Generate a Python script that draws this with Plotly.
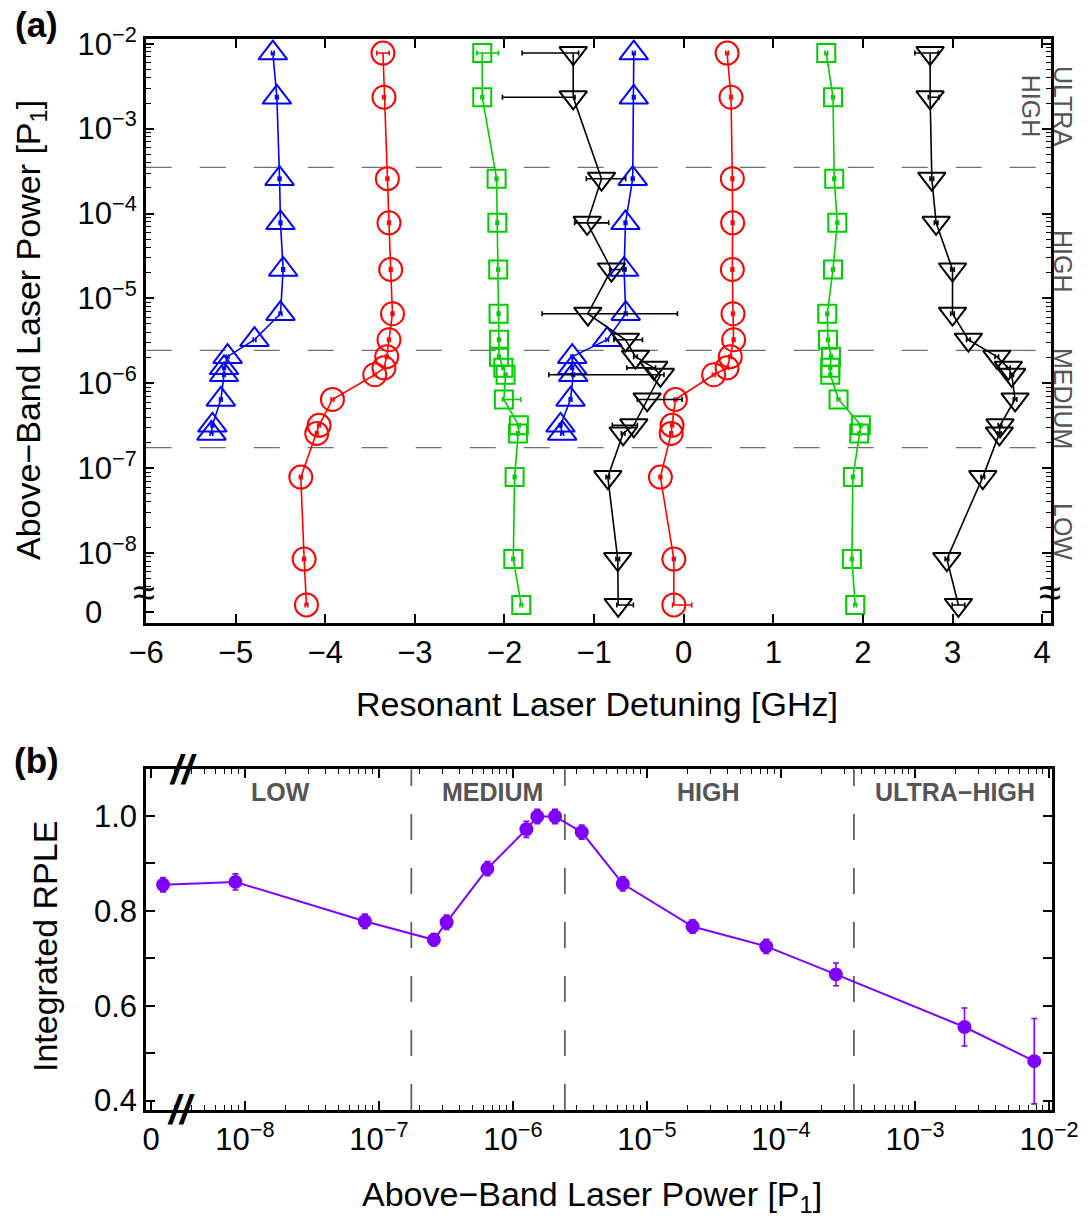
import plotly.graph_objects as go

# ---------------- data ----------------
# above-band laser power levels (P1 units); first entry is the zero-power point drawn at the axis break
power = [2.45e-9, 8.5e-9, 7.85e-8, 2.57e-7, 3.2e-7, 6.45e-7, 1.26e-6, 1.52e-6,
         2.06e-6, 3.26e-6, 6.6e-6, 2.19e-5, 7.76e-5, 2.57e-4, 2.34e-3, 7.76e-3]
zero_tick = 2e-9
region_bounds = [1.745e-7, 2.44e-6, 3.5e-4]

# panel (a): resonant laser detuning [GHz]
blue_left = [-5.27, -5.26, -5.165, -5.13, -5.13, -5.09, -4.79, -4.50, -4.47, -4.50, -4.51, -4.54, -4.585]
blue_right = [-1.356, -1.375, -1.263, -1.233, -1.244, -1.244, -0.854, -0.647, -0.665, -0.65, -0.569, -0.557, -0.557]
red_left = [-4.21, -4.236, -4.273, -4.095, -4.069, -3.92, -3.448, -3.345, -3.314, -3.289, -3.25, -3.27, -3.289, -3.307, -3.345, -3.356]
red_right = [-0.11, -0.11, -0.26, -0.14, -0.13, -0.093, 0.334, 0.484, 0.52, 0.557, 0.55, 0.543, 0.546, 0.543, 0.528, 0.484]
green_left = [-1.813, -1.902, -1.887, -1.85, -1.84, -2.007, -1.988, -2.013, -2.062, -2.062, -2.066, -2.07, -2.08, -2.088, -2.248, -2.248]
green_right = [1.914, 1.877, 1.888, 1.959, 1.977, 1.728, 1.636, 1.636, 1.643, 1.61, 1.602, 1.666, 1.714, 1.68, 1.666, 1.591]
black_left = [-0.731, -0.736, -0.847, -0.676, -0.557, -0.408, -0.26, -0.334, -0.538, -0.65, -1.07, -0.806, -1.077, -0.917, -1.233, -1.233]
black_right = [3.066, 2.937, 3.338, 3.523, 3.53, 3.698, 3.661, 3.623, 3.494, 3.177, 3.0, 3.0, 2.817, 2.769, 2.75, 2.75]

# horizontal error bars (plus / minus) [GHz]
blue_left_ep = [0.015] * 13
blue_left_em = [0.015] * 13
blue_right_ep = [0.015] * 13
blue_right_em = [0.015] * 13
red_left_ep = [0.015] * 15 + [0.07]
red_left_em = [0.015] * 15 + [0.07]
red_right_ep = [0.2] + [0.015] * 15
red_right_em = [0.015] * 16
green_left_ep = [0.015, 0.015, 0.015, 0.015, 0.015, 0.19, 0.015, 0.015, 0.015, 0.015, 0.015, 0.015, 0.015, 0.015, 0.015, 0.18]
green_left_em = [0.015] * 15 + [0.06]
green_right_ep = [0.015] * 16
green_right_em = [0.015] * 16
black_left_ep = [0.17, 0.02, 0.02, 0.02, 0.04, 0.39, 0.04, 0.02, 0.02, 0.19, 1.0, 0.16, 0.24, 0.27, 0.02, 0.06]
black_left_em = [0.015, 0.02, 0.02, 0.02, 0.24, 0.11, 1.245, 0.3, 0.02, 0.13, 0.51, 0.02, 0.14, 0.17, 0.79, 0.57]
black_right_ep = [0.07, 0.02, 0.02, 0.02, 0.02, 0.02, 0.02, 0.02, 0.02, 0.02, 0.02, 0.02, 0.02, 0.02, 0.1, 0.09]
black_right_em = [0.07, 0.02, 0.02, 0.02, 0.02, 0.02, 0.02, 0.02, 0.02, 0.02, 0.02, 0.02, 0.02, 0.02, 0.02, 0.17]

# panel (b): integrated RPLE
rple = [0.855, 0.861, 0.778, 0.739, 0.776, 0.889, 0.972, 0.999, 0.999, 0.966, 0.857, 0.767, 0.725, 0.666, 0.555, 0.483]
rple_err = [0.015, 0.017, 0.015, 0.013, 0.015, 0.015, 0.017, 0.015, 0.015, 0.015, 0.015, 0.014, 0.015, 0.024, 0.04, 0.09]

top_ticks = [zero_tick, 1e-8, 1e-7, 1e-6, 1e-5, 1e-4, 1e-3, 1e-2]
power_ticktext = ["10<sup>\u2212%d</sup>" % k for k in [8, 7, 6, 5, 4, 3, 2]]
x_ticks = [-6, -5, -4, -3, -2, -1, 0, 1, 2, 3, 4]
rple_ticks = [0.4, 0.5, 0.6, 0.7, 0.8, 0.9, 1.0]
rple_ticktext = ["0.4", "", "0.6", "", "0.8", "", "1.0"]
top_regions = ["ULTRA<br>HIGH", "HIGH", "MEDIUM", "LOW"]
bottom_regions = ["LOW", "MEDIUM", "HIGH", "ULTRA\u2212HIGH"]

# ---------------- style ----------------
FONT = "Liberation Sans, Arial, Helvetica, sans-serif"
BLUE, RED, GREEN, BLACK, PURPLE = "#0000ff", "#ff0000", "#00cc00", "#000000", "#7f00ff"
GRAY = "#555555"
W, H = 1091, 1228

minor = []
for e in range(-9, -1):
    for m in range(2, 10):
        v = m * 10.0 ** e
        if v > zero_tick * 1.01:
            minor.append(v)

fig = go.Figure()

def add_series(xv, yv, ep, em, color, symbol, size):
    fig.add_trace(go.Scatter(
        x=xv, y=yv, mode="lines+markers", xaxis="x", yaxis="y",
        line=dict(color=color, width=1.6),
        marker=dict(symbol=symbol, size=size, color=color, line=dict(color=color, width=2)),
        error_x=dict(type="data", symmetric=False, array=ep, arrayminus=em,
                     color=color, thickness=1.6, width=2.5),
        showlegend=False, hoverinfo="skip"))

add_series(blue_left, power[3:], blue_left_ep, blue_left_em, BLUE, "triangle-up-open", 25)
add_series(blue_right, power[3:], blue_right_ep, blue_right_em, BLUE, "triangle-up-open", 25)
add_series(red_left, power, red_left_ep, red_left_em, RED, "circle-open", 23)
add_series(red_right, power, red_right_ep, red_right_em, RED, "circle-open", 23)
add_series(green_left, power, green_left_ep, green_left_em, GREEN, "square-open", 18)
add_series(green_right, power, green_right_ep, green_right_em, GREEN, "square-open", 18)
add_series(black_left, power, black_left_ep, black_left_em, BLACK, "triangle-down-open", 24)
add_series(black_right, power, black_right_ep, black_right_em, BLACK, "triangle-down-open", 24)

fig.add_trace(go.Scatter(
    x=power, y=rple, mode="lines+markers", xaxis="x2", yaxis="y2",
    line=dict(color=PURPLE, width=2),
    marker=dict(symbol="circle", size=14, color=PURPLE),
    error_y=dict(type="data", array=rple_err, color=PURPLE, thickness=1.6, width=3),
    showlegend=False, hoverinfo="skip"))

# empty traces so the minor-tick overlay axes are drawn
fig.add_trace(go.Scatter(x=[], y=[], xaxis="x", yaxis="y3", showlegend=False))
fig.add_trace(go.Scatter(x=[], y=[], xaxis="x4", yaxis="y2", showlegend=False))

# plot-area geometry (pixels)
a_l, a_r, a_t, a_b = 145.7, 1051, 39.3, 622.7
b_l, b_r, b_t, b_b = 146, 1051.7, 769.3, 1110

def px(x):
    return x / W

def py(y):
    return 1 - y / H

top_yrange = [-8.82, -1.948]
bot_xrange = [-8.738, -1.98]

axis_common = dict(showgrid=False, zeroline=False, ticks="inside", ticklen=9, tickwidth=1.5,
                   tickcolor="black", showline=True, linecolor="black", linewidth=2.5,
                   mirror="ticks", automargin=False,
                   tickfont=dict(family=FONT, size=31, color="black"))
minor_common = dict(showgrid=False, zeroline=False, tickmode="array", tickvals=minor,
                    ticks="inside", ticklen=5, tickwidth=1.2, tickcolor="black",
                    showticklabels=False, showline=False, mirror="ticks", automargin=False)

fig.update_layout(
    template="none",
    width=W, height=H, autosize=False,
    margin=dict(l=0, r=0, t=0, b=0, pad=0),
    paper_bgcolor="white", plot_bgcolor="white",
    showlegend=False,
    font=dict(family=FONT, color="black"),
    xaxis=dict(domain=[px(a_l), px(a_r)], anchor="y", range=[-6.004, 4.099],
               tickmode="array", tickvals=x_ticks, **axis_common),
    yaxis=dict(domain=[py(a_b), py(a_t)], anchor="x", type="log", range=top_yrange,
               tickmode="array", tickvals=top_ticks,
               ticktext=["0" + "\u00a0" * 4] + power_ticktext, **axis_common),
    yaxis3=dict(overlaying="y", anchor="x", type="log", range=top_yrange, **minor_common),
    xaxis2=dict(domain=[px(b_l), px(b_r)], anchor="y2", type="log", range=bot_xrange,
                tickmode="array", tickvals=top_ticks, ticktext=["0"] + power_ticktext,
                **axis_common),
    xaxis4=dict(overlaying="x2", anchor="y2", type="log", range=bot_xrange, **minor_common),
    yaxis2=dict(domain=[py(b_b), py(b_t)], anchor="x2", range=[0.38, 1.0985],
                tickmode="array", tickvals=rple_ticks, ticktext=rple_ticktext, **axis_common),
)

shapes = []
for v in region_bounds:
    shapes.append(dict(type="line", xref="x domain", yref="y", x0=0, x1=1, y0=v, y1=v,
                       line=dict(color="#707070", width=1.3, dash="26px,28px"), layer="below"))
    shapes.append(dict(type="line", xref="x2", yref="y2 domain", x0=v, x1=v, y0=0, y1=1,
                       line=dict(color="#606060", width=1.8, dash="26px,28px"), layer="below"))
fig.update_layout(shapes=shapes)

ann = []
def text(x, y, s, size, color="black", angle=0):
    ann.append(dict(x=px(x), y=py(y), xref="paper", yref="paper", text=s, showarrow=False,
                    textangle=angle, xanchor="center", yanchor="middle",
                    font=dict(family=FONT, size=size, color=color)))

text(36, 24, "<b>(a)</b>", 35)
text(36, 760, "<b>(b)</b>", 35)
text(30, 330, "Above\u2212Band Laser Power [P<sub>1</sub>]", 34, angle=-90)
text(597, 704, "Resonant Laser Detuning [GHz]", 34)
text(45, 947, "Integrated RPLE", 34, angle=-90)
text(592, 1196, "Above\u2212Band Laser Power [P<sub>1</sub>]", 34)

# region labels, panel (a)
for s, yy, xx in zip(top_regions, [106, 261, 398, 531], [1047, 1063, 1063, 1063]):
    text(xx, yy, s, 25, color=GRAY, angle=90)
# region labels, panel (b)
for s, xx in zip(bottom_regions, [280, 492, 708, 955]):
    text(xx, 792, "<b>%s</b>" % s, 25, color=GRAY)

# axis break marks
text(144, 592, "\u2248", 40)
text(1050, 592, "\u2248", 40)
text(183, 770, "<b><i>//</i></b>", 40)
text(181, 1110, "<b><i>//</i></b>", 40)

fig.update_layout(annotations=ann)

fig.write_html("out.html")
